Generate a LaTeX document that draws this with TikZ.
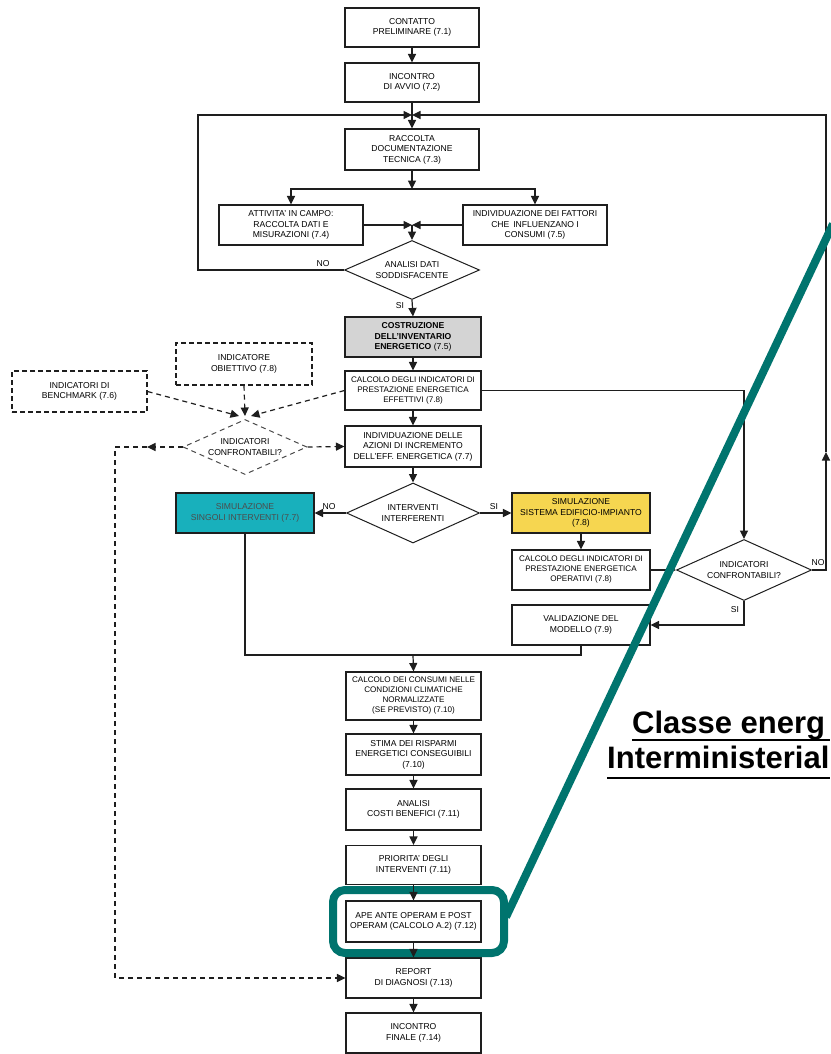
\documentclass[tikz,border=0pt]{standalone}
\usepackage{fontspec}
\setmainfont{Liberation Sans}
\usetikzlibrary{arrows.meta,shapes.geometric}
\definecolor{lineC}{RGB}{30,30,30}
\definecolor{grayF}{RGB}{212,212,212}
\definecolor{tealF}{RGB}{24,176,188}
\definecolor{yellF}{RGB}{246,214,80}
\definecolor{hiC}{RGB}{0,116,110}
\begin{document}
\begin{tikzpicture}[x=1pt,y=-1pt,
  box/.style={draw=lineC, line width=1.1pt, rectangle, inner sep=1pt, align=center,
    font=\fontsize{8.6}{10.5}\selectfont, fill=white},
  sbox/.style={box, font=\fontsize{8.1}{10}\selectfont},
  dbox/.style={box, dashed, dash pattern=on 5pt off 3pt},
  dia/.style={draw=lineC, line width=1pt, shape=diamond, aspect=2.3, inner sep=0pt,
    align=center, font=\fontsize{8.6}{10.5}\selectfont, fill=white},
  ln/.style={draw=lineC, line width=1.2pt},
  arr/.style={ln, -{Triangle[length=8.5pt,width=8pt]}},
  dl/.style={ln, dashed, dash pattern=on 5pt off 4pt},
  darr/.style={dl, -{Triangle[length=8.5pt,width=8pt]}},
  lab/.style={font=\fontsize{8.6}{10}\selectfont, inner sep=0pt},
  big/.style={font=\fontsize{31}{31}\bfseries\selectfont, inner sep=0pt, anchor=base west}
]
\useasboundingbox (0,0) rectangle (830,1054);
\fill[white] (0,0) rectangle (830,1054);

% main column, top part
\node[box, minimum width=134pt, minimum height=39pt] (n1) at (412,27.5) {CONTATTO\\PRELIMINARE (7.1)};
\node[box, minimum width=134pt, minimum height=39pt] (n2) at (412,82.5) {INCONTRO\\DI AVVIO (7.2)};
\node[box, minimum width=134pt, minimum height=41pt] (n3) at (412,149.5) {RACCOLTA\\DOCUMENTAZIONE\\TECNICA (7.3)};
\node[box, minimum width=144pt, minimum height=40pt] (n4) at (291,225) {ATTIVITA' IN CAMPO:\\RACCOLTA DATI E\\MISURAZIONI (7.4)};
\node[box, minimum width=144pt, minimum height=40pt] (n5) at (535,225) {INDIVIDUAZIONE DEI FATTORI\\CHE\, INFLUENZANO I\\CONSUMI (7.5)};
\node[dia, minimum width=135pt, minimum height=59pt] (d1) at (412,270) {ANALISI DATI\\SODDISFACENTE};
\node[box, fill=grayF, minimum width=136pt, minimum height=40pt] (n6) at (413,337) {\textbf{COSTRUZIONE}\\\textbf{DELL'INVENTARIO}\\\textbf{ENERGETICO} (7.5)};
\node[sbox, minimum width=136pt, minimum height=39pt] (n7) at (413,390.5) {CALCOLO DEGLI INDICATORI DI\\PRESTAZIONE ENERGETICA\\EFFETTIVI (7.8)};
\node[box, minimum width=136pt, minimum height=41pt] (n8) at (413,446.5) {INDIVIDUAZIONE DELLE\\AZIONI DI INCREMENTO\\DELL'EFF. ENERGETICA (7.7)};
\node[dia, minimum width=133pt, minimum height=60pt] (d2) at (413,513) {INTERVENTI\\INTERFERENTI};
\node[box, fill=tealF, text=black!70, minimum width=138pt, minimum height=40pt] (n9) at (245,513) {SIMULAZIONE\\SINGOLI INTERVENTI (7.7)};
\node[box, fill=yellF, minimum width=138pt, minimum height=40pt] (n10) at (581,513) {SIMULAZIONE\\SISTEMA EDIFICIO-IMPIANTO\\(7.8)};
\node[sbox, minimum width=138pt, minimum height=40pt] (n11) at (581,570) {CALCOLO DEGLI INDICATORI DI\\PRESTAZIONE ENERGETICA\\OPERATIVI (7.8)};
\node[dia, minimum width=135pt, minimum height=61pt] (d3) at (744,570) {INDICATORI\\CONFRONTABILI?};
\node[box, minimum width=138pt, minimum height=40pt] (n12) at (581,625) {VALIDAZIONE DEL\\MODELLO (7.9)};

% dashed part
\node[dbox, minimum width=136pt, minimum height=42pt] (n13) at (244,364) {INDICATORE\\OBIETTIVO (7.8)};
\node[dbox, minimum width=135pt, minimum height=41pt] (n14) at (79.5,391.5) {INDICATORI DI\\BENCHMARK (7.6)};
\node[dia, dashed, dash pattern=on 5pt off 4pt, draw=lineC!80, minimum width=124pt, minimum height=55pt] (d4) at (245,447) {INDICATORI\\CONFRONTABILI?};

% bottom column
\node[sbox, minimum width=135pt, minimum height=48pt] (n15) at (413.5,696) {CALCOLO DEI CONSUMI NELLE\\CONDIZIONI CLIMATICHE\\NORMALIZZATE\\(SE PREVISTO) (7.10)};
\node[box, minimum width=135pt, minimum height=41pt] (n16) at (413.5,754.5) {STIMA DEI RISPARMI\\ENERGETICI CONSEGUIBILI\\(7.10)};
\node[box, minimum width=135pt, minimum height=41pt] (n17) at (413.5,809.5) {ANALISI\\COSTI BENEFICI (7.11)};
\node[box, minimum width=135pt, minimum height=39pt] (n18) at (413.5,865) {PRIORITA' DEGLI\\INTERVENTI (7.11)};
\node[box, minimum width=135pt, minimum height=41pt] (n19) at (413.5,921.5) {APE ANTE OPERAM E POST\\OPERAM (CALCOLO A.2) (7.12)};
\node[box, minimum width=135pt, minimum height=40pt] (n20) at (413.5,978) {REPORT\\DI DIAGNOSI (7.13)};
\node[box, minimum width=135pt, minimum height=40pt] (n21) at (413.5,1033) {INCONTRO\\FINALE (7.14)};

% highlight frame (under the connectors)
\draw[hiC, line width=8pt, rounded corners=12pt] (333,890) rectangle (504,953);

% coordinates
\coordinate (j1) at (412,115);
\coordinate (l1) at (198,115);
\coordinate (s1) at (412,189);
\coordinate (j2) at (412,225);
\coordinate (c1) at (826,452);
\coordinate (m1) at (413,655);
\coordinate (k) at (245,416);
\coordinate (w1) at (147,447);
\coordinate (w2) at (115,447);

% connectors
\draw[arr] (n1) -- (n2);
\draw[arr] (n2) -- (n3);
\draw[arr] (d1.west) -| (l1) -- (j1);
\draw[arr] (d3.east) -| (c1);
\draw[arr] (c1) |- (j1);
\draw[arr] (n3) -- (s1);
\draw[arr] (s1) -| (n4.north);
\draw[arr] (s1) -| (n5.north);
\draw[arr] (n4.east) -- (j2);
\draw[arr] (n5.west) -- (j2);
\draw[arr] (j2) -- (d1.north);
\draw[arr] (d1.south) -- (n6.north);
\draw[arr] (n6) -- (n7);
\draw[arr] (n7) -- (n8);
\draw[arr] (n8) -- (d2.north);
\draw[arr] (n7.east) -| (d3.north);
\draw[arr] (d2.west) -- (n9.east);
\draw[arr] (d2.east) -- (n10.west);
\draw[arr] (n10) -- (n11);
\draw[arr] (n11.east) -- (d3.west);
\draw[arr] (d3.south) |- (n12.east);
\draw[ln] (n9.south) |- (m1);
\draw[ln] (n12.south) |- (m1);
\draw[arr] (m1) -- (n15.north);
\draw[arr] (n15) -- (n16);
\draw[arr] (n16) -- (n17);
\draw[arr] (n17) -- (n18);
\draw[arr] (n18) -- (n19);
\draw[arr] (n19) -- (n20);
\draw[arr] (n20) -- (n21);

% dashed connectors
\draw[darr] (n13.south) -- (k);
\draw[darr] (n14.east) -- ([xshift=-6pt]k);
\draw[darr] (n7.west) -- ([xshift=6pt]k);
\draw[darr] (d4.east) -- (n8.west);
\draw[darr] (d4.west) -- (w1);
\draw[darr] (w1) -- (w2) |- (n20.west);

% labels
\node[lab] at (323,264) {NO};
\node[lab] at (400,306) {SI};
\node[lab] at (329,507) {NO};
\node[lab] at (494,507) {SI};
\node[lab] at (818,563) {NO};
\node[lab] at (735,610) {SI};

% highlight pointer line
\draw[hiC, line width=8pt] (506,917) -- (833,224);

% title fragments
\node[big] (t1) at (632,733) {Classe energ};
\node[big] (t2) at (607,768) {Interministerial};
\draw[line width=2pt] (t1.base west) ++(0,7) -- (830,740);
\draw[line width=2pt] (t2.base west) ++(0,10) -- (830,778);
\end{tikzpicture}
\end{document}
